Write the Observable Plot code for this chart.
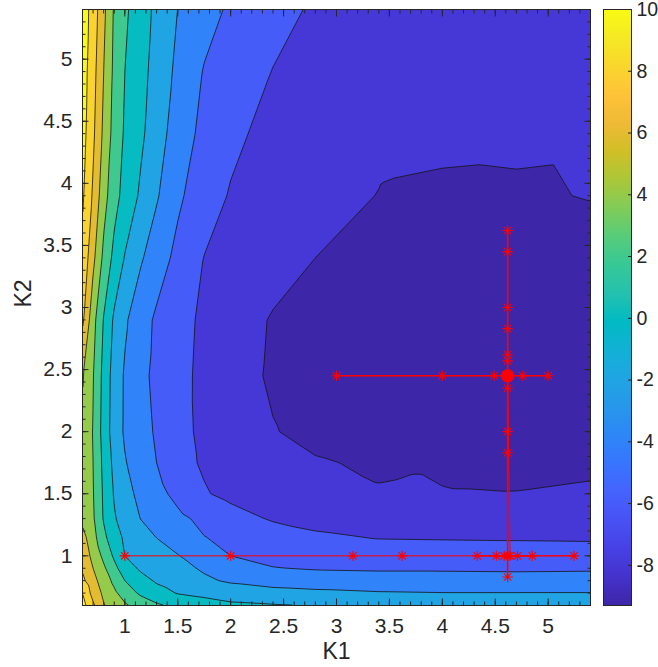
<!DOCTYPE html>
<html><head><meta charset="utf-8">
<script src="https://cdn.jsdelivr.net/npm/d3@7"></script>
<script src="https://cdn.jsdelivr.net/npm/@observablehq/plot@0.6"></script>
<style>
html,body{margin:0;padding:0;background:#fff;}
#wrap{position:relative;width:658px;height:667px;overflow:hidden;}
#wrap svg{position:absolute;top:0;overflow:visible;}
</style></head><body><div id="wrap"></div>
<script>
// ---- grid of the objective surface ----
const k1Nodes = [0.6, 0.7, 0.8, 0.9, 1.0, 1.15, 1.3, 1.5, 1.75, 2.0, 2.4, 2.8, 3.4, 4.0, 4.7, 5.4];
const k2Nodes = [0.6, 0.7, 0.8, 0.9, 1.0, 1.15, 1.3, 1.5, 1.75, 2.0, 2.45, 2.9, 3.4, 3.9, 4.4, 4.9, 5.4];
// one row per K2 node (bottom to top), one value per K1 node
const zGrid = [
  [10.8, 8.36, 6.12, 5.16, 4.27, 3.25, 2.31, 1.5, 0.9, 0.4, 0.15, -0.05, -0.35, -0.5, -0.6, -0.6],
  [10.0, 7.24, 5.63, 4.38, 3.13, 1.64, 0.73, -0.1, -0.51, -0.97, -1.33, -1.58, -1.85, -1.95, -1.95, -1.95],
  [8.45, 6.64, 5.04, 3.54, 2.0, 0.7, -0.23, -0.89, -1.7, -2.25, -2.8, -3.0, -3.15, -3.2, -3.25, -3.2],
  [7.8, 6.0, 4.33, 2.55, 0.92, -0.3, -0.8, -1.47, -2.23, -2.86, -3.93, -4.15, -4.25, -4.25, -4.3, -4.25],
  [7.3, 5.43, 3.52, 1.67, 0.0, -0.58, -1.15, -1.92, -2.96, -4.0, -4.55, -4.85, -5.05, -5.1, -5.1, -5.15],
  [6.7, 4.7, 2.47, 0.77, -0.29, -1.18, -2.04, -2.89, -3.96, -4.39, -5.03, -5.7, -6.1, -6.15, -6.2, -6.25],
  [5.5, 4.25, 1.83, 0.17, -0.78, -2.04, -2.7, -3.57, -4.46, -5.23, -6.2, -6.6, -6.95, -7.1, -7.15, -7.1],
  [5.4, 4.1, 1.7, -0.17, -1.31, -2.53, -3.41, -4.53, -5.84, -6.5, -7.0, -7.35, -7.7, -7.85, -7.95, -7.75],
  [5.5, 4.0, 1.5, -0.53, -1.87, -2.97, -4.0, -5.38, -6.23, -6.58, -7.15, -7.85, -8.25, -8.45, -8.5, -8.35],
  [5.6, 3.9, 1.23, -0.96, -2.24, -3.25, -4.24, -5.45, -6.38, -6.97, -7.91, -8.5, -8.85, -9.0, -9.1, -8.95],
  [6.2, 4.1, 1.38, -0.85, -2.21, -3.49, -4.46, -5.44, -6.45, -7.21, -8.25, -8.75, -9.05, -9.2, -9.3, -9.15],
  [8.4, 4.7, 1.88, -0.34, -1.72, -3.18, -4.31, -5.33, -6.35, -7.07, -8.15, -8.6, -8.9, -9.05, -9.05, -8.9],
  [9.6, 6.5, 3.53, 1.44, -0.11, -1.78, -3.04, -4.52, -6.04, -6.5, -7.25, -8.0, -8.5, -8.7, -8.7, -8.55],
  [10.3, 7.71, 4.77, 2.7, 1.33, -0.3, -1.8, -3.64, -5.17, -6.14, -6.7, -7.3, -8.05, -8.2, -8.15, -7.95],
  [10.8, 8.38, 5.57, 3.25, 1.77, 0.37, -1.1, -2.96, -4.54, -5.58, -6.6, -7.1, -7.5, -7.75, -7.8, -7.85],
  [11.0, 8.75, 6.0, 3.54, 2.0, 0.64, -0.73, -2.44, -4.12, -4.87, -6.05, -6.7, -7.1, -7.4, -7.6, -7.65],
  [11.2, 9.15, 6.48, 3.76, 2.35, 0.87, -0.42, -2.02, -3.28, -4.29, -5.38, -6.25, -6.85, -7.15, -7.4, -7.55]
];
// extra samples along the ragged edge of the lowest region
const extraK1 = [3.45, 3.4, 3.8, 4.2];
const extraK2 = [3.97, 1.6, 1.63, 1.58];
const extraZ  = [-8.05, -8.05, -7.93, -8.15];

const levels = [-8, -6, -4, -2, 0, 2, 4, 6, 8, 10];
const zRange = [-9.3, 10];

// ---- search path (evaluation order) ----
// first sweep along K1 at K2 = 1, then hop to the second search line
const sweep1K1 = [1, 2, 3.155, 3.62, 5.245, 4.33, 4.85, 4.51, 4.71, 4.585, 4.617, 4.64, 4.617];
const sweep1K2 = [1, 1, 1, 1, 1, 1, 1, 1, 1, 1, 1, 1, 2.45];
// then along K2 at K1 = 4.617, then along K1 at K2 = 2.45
const sweep2K1 = [4.617, 4.617, 4.617, 4.617, 4.617, 4.617, 4.617, 4.617, 4.617, 4.617, 4.617, 4.617, 4.617,
  3.0, 4.0, 5.0, 4.49, 4.76, 4.6, 4.64, 4.617];
const sweep2K2 = [2.45, 3.62, 0.83, 3.45, 1.0, 3.0, 1.83, 2.83, 2.0, 2.62, 2.35, 2.57, 2.45,
  2.45, 2.45, 2.45, 2.45, 2.45, 2.45, 2.45, 2.45];
const bestK1 = [4.617];
const bestK2 = [2.45];

// ---- ticks ----
const xTicks = [1, 1.5, 2, 2.5, 3, 3.5, 4, 4.5, 5];
const yTicks = [1, 1.5, 2, 2.5, 3, 3.5, 4, 4.5, 5];
const cbTicks = [-8, -6, -4, -2, 0, 2, 4, 6, 8, 10];
const minorTicks = d3.range(6, 55).map(i => i / 10);

// parula colormap stops
const parula = ["#3e26a8","#4432cb","#4741e5","#4852f4","#4563fd","#3875fe","#2e87f7","#2797eb",
  "#20a5e3","#12b1d6","#02bac3","#24c1af","#37c897","#57cc7a","#81cc59","#abc739","#d1bf27",
  "#efba36","#fec338","#fad62d","#f5e924","#f9fb15"];

const FONT = '"Liberation Sans", Arial, Helvetica, sans-serif';
const AX = "#262626";

const points = [];
k2Nodes.forEach((k2, j) => k1Nodes.forEach((k1, i) => points.push({k1, k2, z: zGrid[j][i]})));
extraK1.forEach((k1, i) => points.push({k1, k2: extraK2[i], z: extraZ[i]}));
const path1 = sweep1K1.map((k1, i) => ({k1, k2: sweep1K2[i]}));
const path2 = sweep2K1.map((k1, i) => ({k1, k2: sweep2K2[i]}));
const allPts = path1.slice(0, -1).concat(path2);
const best = bestK1.map((k1, i) => ({k1, k2: bestK2[i]}));

const colorOpts = {type: "linear", domain: zRange, interpolate: d3.piecewise(d3.interpolateRgb, parula), clamp: true};

const star = {
  draw(ctx, size) {
    const r = Math.sqrt(size / Math.PI), d = r * Math.SQRT1_2;
    ctx.moveTo(-r, 0); ctx.lineTo(r, 0);
    ctx.moveTo(0, -r); ctx.lineTo(0, r);
    ctx.moveTo(-d, -d); ctx.lineTo(d, d);
    ctx.moveTo(-d, d); ctx.lineTo(d, -d);
  }
};

const TS = 6.5, MS = 3.5, FS = 21;
const main = Plot.plot({
  width: 596, height: 667,
  marginLeft: 82, marginRight: 6, marginTop: 9, marginBottom: 62,
  style: {fontFamily: FONT, fontSize: FS + "px", color: AX, background: "transparent", overflow: "visible"},
  x: {domain: [0.6, 5.4]},
  y: {domain: [0.6, 5.4]},
  color: colorOpts,
  marks: [
    Plot.frame({fill: parula[0]}),
    Plot.contour(points, {x: "k1", y: "k2", value: "z", fill: "value", interpolate: "barycentric",
      thresholds: levels, stroke: "#141414", strokeWidth: 0.8, pixelSize: 1}),
    Plot.line(path1, {x: "k1", y: "k2", stroke: "#ff0000", strokeWidth: 1}),
    Plot.line(path2, {x: "k1", y: "k2", stroke: "#ff0000", strokeWidth: 1.6}),
    Plot.dot(allPts, {x: "k1", y: "k2", symbol: star, r: 5.2, stroke: "#ff0000", fill: "none", strokeWidth: 1.1}),
    Plot.dot(best, {x: "k1", y: "k2", r: 6.5, fill: "#ff0000", stroke: "#ff0000", strokeWidth: 0.5}),
    // inward ticks, all four sides
    Plot.axisX({anchor: "bottom", ticks: minorTicks, tickSize: MS, dy: -MS, text: null, label: null, stroke: AX}),
    Plot.axisX({anchor: "bottom", ticks: xTicks, tickSize: TS, dy: -TS, text: null, label: null, stroke: AX}),
    Plot.axisX({anchor: "top", ticks: minorTicks, tickSize: MS, dy: MS, text: null, label: null, stroke: AX}),
    Plot.axisX({anchor: "top", ticks: xTicks, tickSize: TS, dy: TS, text: null, label: null, stroke: AX}),
    Plot.axisY({anchor: "left", ticks: minorTicks, tickSize: MS, dx: MS, text: null, label: null, stroke: AX}),
    Plot.axisY({anchor: "left", ticks: yTicks, tickSize: TS, dx: TS, text: null, label: null, stroke: AX}),
    Plot.axisY({anchor: "right", ticks: minorTicks, tickSize: MS, dx: -MS, text: null, label: null, stroke: AX}),
    Plot.axisY({anchor: "right", ticks: yTicks, tickSize: TS, dx: -TS, text: null, label: null, stroke: AX}),
    // tick labels
    Plot.axisX({anchor: "bottom", ticks: xTicks, tickSize: 0, tickPadding: 13, tickFormat: d => String(d), label: null, fontSize: FS, fill: AX}),
    Plot.axisY({anchor: "left", ticks: yTicks, tickSize: 0, tickPadding: 10, tickFormat: d => String(d), label: null, fontSize: FS, fill: AX}),
    Plot.text(["K1"], {frameAnchor: "bottom", dy: 53, fontSize: 23, fill: AX}),
    Plot.text(["K2"], {frameAnchor: "left", dx: -59, rotate: -90, fontSize: 23, fill: AX}),
    Plot.frame({stroke: AX, strokeWidth: 1})
  ]
});
main.style.left = "0px";

const cb = Plot.plot({
  width: 62, height: 667,
  marginLeft: 7, marginRight: 27, marginTop: 9, marginBottom: 62,
  style: {fontFamily: FONT, fontSize: "19.5px", color: AX, background: "transparent", overflow: "visible"},
  x: {domain: [0, 1], axis: null},
  y: {domain: zRange, axis: null},
  color: colorOpts,
  marks: [
    Plot.raster({fill: (x, y) => y, x1: 0, x2: 1, y1: zRange[0], y2: zRange[1], pixelSize: 1}),
    Plot.axisY({anchor: "right", ticks: cbTicks, tickSize: 4, dx: -4, text: null, label: null, stroke: AX}),
    Plot.axisY({anchor: "right", ticks: cbTicks, tickSize: 0, tickPadding: 5, tickFormat: d => String(d), label: null, fontSize: 19.5, fill: AX}),
    Plot.frame({stroke: AX, strokeWidth: 1})
  ]
});
cb.style.left = "596px";

const wrap = document.getElementById("wrap");
wrap.appendChild(main);
wrap.appendChild(cb);
</script>
</body></html>
